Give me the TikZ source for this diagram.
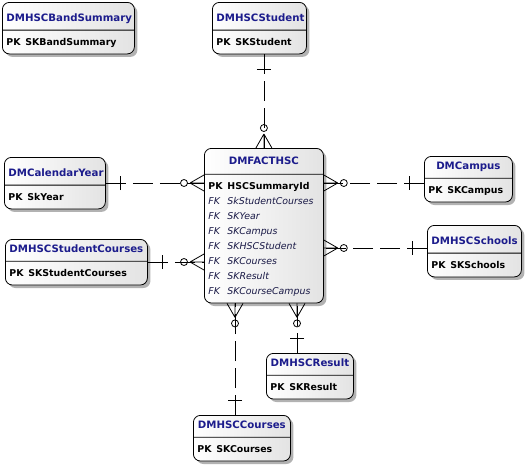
\documentclass[tikz,border=0pt]{standalone}
\usepackage{fontspec}
\setmainfont{DejaVu Sans}
\usetikzlibrary{shapes.multipart, shadows, decorations.markings}

\definecolor{titleblue}{RGB}{28,28,140}
\definecolor{fkblue}{RGB}{25,25,70}

% entity texts
\newcommand{\etitle}[1]{\hfil\fontsize{10.2}{13}\selectfont\strut\textcolor{titleblue}{\bfseries #1}\hfil}
\newcommand{\pk}[1]{\makebox[19pt][l]{\bfseries PK}\textbf{#1}\strut}
\newcommand{\fk}[1]{{\color{fkblue}\itshape\makebox[19pt][l]{FK}#1\strut}}

\tikzset{
  entity/.style={rectangle split, rectangle split parts=2, draw, line width=0.8pt,
    rounded corners=7pt, left color=white, right color=gray!22,
    drop shadow={shadow xshift=3pt, shadow yshift=-3pt, fill=black!30, opacity=1},
    inner xsep=4pt, inner ysep=4pt, anchor=north west, align=left,
    font=\fontsize{9.4}{15}\selectfont},
  rel/.style={line width=0.8pt, dash pattern=on 20pt off 7pt,
    postaction={decorate, decoration={markings,
      mark=at position 15pt with {\draw[solid] (0,-7pt) -- (0,7pt);},
      mark=at position -14pt with {\draw[solid] (0,0) -- (14pt,8pt) (0,0) -- (14pt,0) (0,0) -- (14pt,-8pt) (-6pt,0) circle (3.5pt);}}}}
}

\begin{document}
\begin{tikzpicture}[x=1pt, y=-1pt]
  \useasboundingbox (0,0) rectangle (528,466);

  % Entities
  \node (band) [entity, text width=124pt] at (2,2) {\etitle{DMHSCBandSummary}\nodepart{two}\pk{SKBandSummary}};
  \node (stu) [entity, text width=86pt] at (212,2) {\etitle{DMHSCStudent}\nodepart{two}\pk{SKStudent}};
  \node (cal) [entity, text width=93pt] at (4,157) {\etitle{DMCalendarYear}\nodepart{two}\pk{SkYear}};
  \node (stc) [entity, text width=134pt] at (5,239) {\etitle{DMHSCStudentCourses}\nodepart{two}\pk{SKStudentCourses}};
  \node (fact) [entity, text width=111pt] at (204,148) {\rule[-5pt]{0pt}{17pt}\etitle{DMFACTHSC}\nodepart{two}\pk{HSCSummaryId}\\
    \fk{SkStudentCourses}\\ \fk{SKYear}\\ \fk{SKCampus}\\ \fk{SKHSCStudent}\\
    \fk{SKCourses}\\ \fk{SKResult}\\ \fk{SKCourseCampus}};
  \node (cam) [entity, text width=80pt] at (424,156) {\etitle{DMCampus}\nodepart{two}\pk{SKCampus}};
  \node (sch) [entity, text width=86pt] at (427,225) {\etitle{DMHSCSchools}\nodepart{two}\pk{SKSchools}};
  \node (res) [entity, text width=79pt] at (266,353) {\etitle{DMHSCResult}\nodepart{two}\pk{SKResult}};
  \node (crs) [entity, text width=89pt] at (193,415) {\etitle{DMHSCCourses}\nodepart{two}\pk{SKCourses}};

  % Relationships
  \draw[rel] (stu.south -| fact.north) -- (fact.north);
  \draw[rel] (cal.east |- 0,183) -- (fact.west |- 0,183);
  \draw[rel] (stc.east |- 0,262) -- (fact.west |- 0,262);
  \draw[rel] (cam.west |- 0,183) -- (fact.east |- 0,183);
  \draw[rel] (sch.west |- 0,248) -- (fact.east |- 0,248);
  \draw[rel] (crs.north -| 235,0) -- (fact.south -| 235,0);
  \draw[rel] (res.north -| 297,0) -- (fact.south -| 297,0);
\end{tikzpicture}
\end{document}
